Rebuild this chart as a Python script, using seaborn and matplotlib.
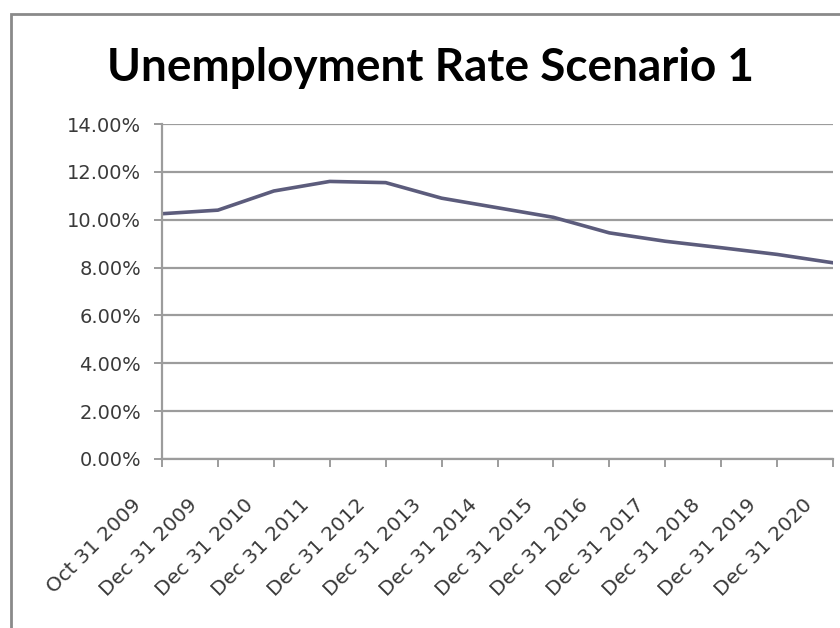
import matplotlib
matplotlib.use("Agg")
import matplotlib.pyplot as plt
import matplotlib.transforms as mtransforms
import seaborn as sns
import pandas as pd
import numpy as np
from matplotlib.patches import Rectangle

dates = ["Oct 31 2009", "Dec 31 2009", "Dec 31 2010", "Dec 31 2011", "Dec 31 2012",
         "Dec 31 2013", "Dec 31 2014", "Dec 31 2015", "Dec 31 2016", "Dec 31 2017",
         "Dec 31 2018", "Dec 31 2019", "Dec 31 2020"]
rates = [10.25, 10.4, 11.2, 11.6, 11.55, 10.9, 10.5, 10.1, 9.45, 9.1, 8.83, 8.55, 8.2]
y_ticks = [0, 2, 4, 6, 8, 10, 12, 14]
title = "Unemployment Rate Scenario 1"

sns.set_theme(style="white")
plt.rcParams['font.family'] = ['DejaVu Sans']

fig = plt.figure(figsize=(8.4, 6.28), dpi=100)
fig.patch.set_facecolor("white")
ax = fig.add_axes([162/840, 1-459/628, (833-162)/840, (459-124)/628])

df = pd.DataFrame({"pos": np.arange(len(dates)), "rate": rates})
sns.lineplot(data=df, x="pos", y="rate", ax=ax, color="#5c5c7c", linewidth=2.6)

ax.set_xlim(0, len(dates) - 1)
ax.set_ylim(0, 14)
ax.set_yticks(y_ticks)
ax.set_yticklabels([f"{v:.2f}%" for v in y_ticks])
ax.set_xticks(np.arange(len(dates)))
ax.set_xticklabels(dates, rotation=45, ha="right", va="center", rotation_mode="anchor")
ax.set_xlabel("")
ax.set_ylabel("")

ax.grid(axis="y", color="#9c9c9c", linewidth=1.6)
ax.grid(axis="x", visible=False)
ax.set_axisbelow(True)
for s in ["top", "right"]:
    ax.spines[s].set_visible(False)
for s in ["left", "bottom"]:
    ax.spines[s].set_color("#9c9c9c")
    ax.spines[s].set_linewidth(1.6)
ax.tick_params(axis="both", which="both", length=6, width=1.4, color="#9c9c9c",
               labelcolor="#3a3a3a", left=True, bottom=True)
ax.tick_params(axis="y", labelsize=14, pad=9)
ax.tick_params(axis="x", labelsize=14.5, pad=0)

offset = mtransforms.ScaledTranslation(-17/72, -25/72, fig.dpi_scale_trans)
for lab in ax.get_xticklabels():
    lab.set_transform(lab.get_transform() + offset)

fig.text(431/840, 1 - 68/628, title, ha="center", va="center", fontsize=33,
         fontweight="bold", color="black", family=["Lato", "DejaVu Sans"])

border = Rectangle((11/840, -0.1), 1.2, 1 - 14/628 + 0.1, transform=fig.transFigure,
                   fill=False, edgecolor="#8a8a8a", linewidth=2, zorder=0)
fig.patches.append(border)

fig.savefig("out.png", dpi=100, facecolor="white")
